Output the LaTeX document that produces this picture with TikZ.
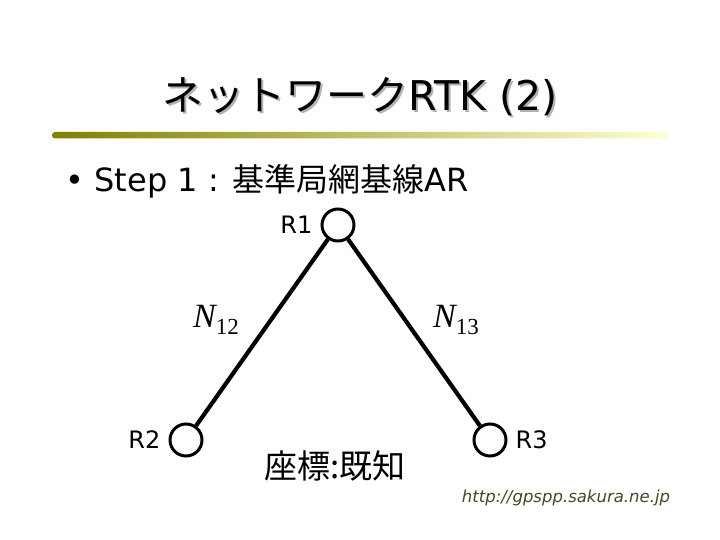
\documentclass[tikz,border=0pt]{standalone}
\usepackage{fontspec}
\setmainfont{DejaVu Sans}
\newfontfamily\jp{Noto Sans CJK JP}
\newfontfamily\tms{Liberation Serif}
\usepackage{xcolor}
\usetikzlibrary{positioning}

\definecolor{barstart}{RGB}{128,128,0}
\definecolor{barend}{RGB}{255,255,210}
\definecolor{urlcol}{RGB}{70,70,40}

\begin{document}
\begin{tikzpicture}[
    x=1pt, y=-1pt,
    station/.style={circle, draw, line width=3pt, minimum size=32pt, inner sep=0pt},
    stlabel/.style={font=\fontsize{24}{28}\selectfont, inner sep=2pt},
    baseline/.style={line width=4.2pt},
    obs/.style={font=\tms\itshape\fontsize{34}{38}\selectfont, inner sep=0pt}
]
\useasboundingbox (0,0) rectangle (720,540);

% title with shadow
\node[text=gray!60, font=\fontsize{41}{46}\selectfont] (titleshadow) at (362,99) {{\jp ネットワーク}RTK (2)};
\node[font=\fontsize{41}{46}\selectfont] (title) at (360,97) {{\jp ネットワーク}RTK (2)};
\shade[left color=barstart, right color=barend, rounded corners=3pt] (52,132) rectangle (668,138.5);

% bullet line
\node[anchor=west, font=\fontsize{32}{36}\selectfont] (step) at (62,181) {\textbullet\ Step 1 : {\jp 基準局網基線}AR};

% stations
\node[station] (r1) at (338,225) {};
\node[station] (r2) at (186,440) {};
\node[station] (r3) at (490,440) {};
\node[stlabel, left=6pt of r1] (r1lbl) {R1};
\node[stlabel, left=6pt of r2] (r2lbl) {R2};
\node[stlabel, right=6pt of r3] (r3lbl) {R3};

\draw[baseline] (r1) -- (r2);
\draw[baseline] (r1) -- (r3);

\node[obs] (n12) at (216,320) {N\raisebox{-7pt}{\fontsize{23}{26}\selectfont\upshape 12}};
\node[obs] (n13) at (456,320) {N\raisebox{-7pt}{\fontsize{23}{26}\selectfont\upshape 13}};

\node[font=\jp\fontsize{33}{38}\selectfont] (known) at (335,466) {座標:既知};
\node[text=urlcol, font=\itshape\fontsize{16.5}{20}\selectfont] (url) at (566,498) {http://gpspp.sakura.ne.jp};
\end{tikzpicture}
\end{document}
